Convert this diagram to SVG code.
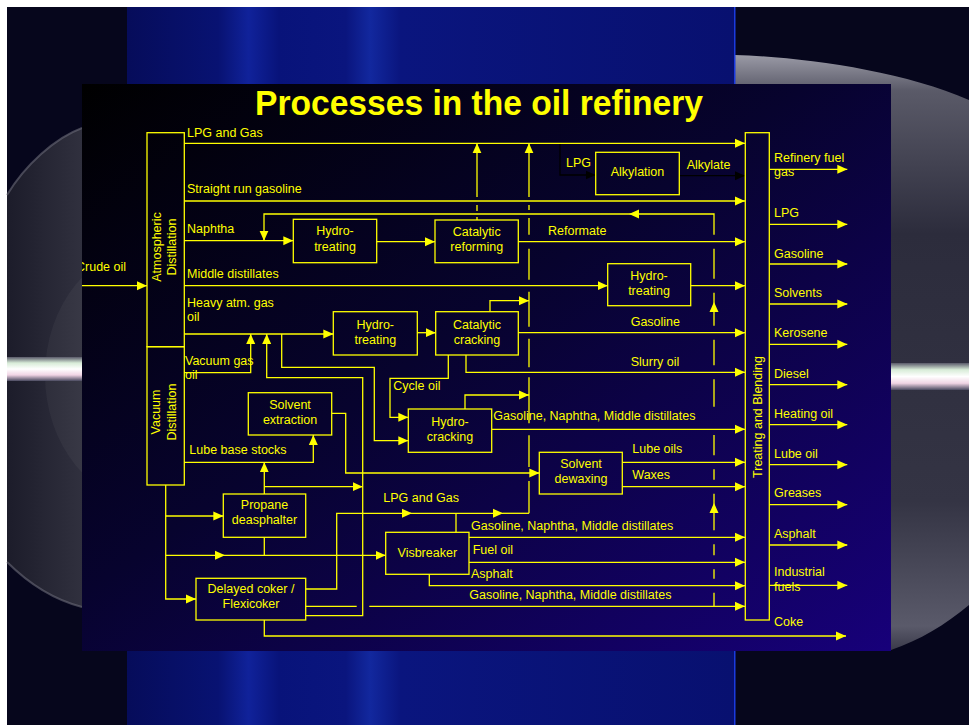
<svg xmlns="http://www.w3.org/2000/svg" width="969" height="725" viewBox="0 0 969 725">
<defs>
<linearGradient id="panelGrad" x1="0" y1="0" x2="1" y2="1">
<stop offset="0" stop-color="#000000"/>
<stop offset="0.45" stop-color="#07032e"/>
<stop offset="1" stop-color="#17007a"/>
</linearGradient>
<linearGradient id="band" x1="127" y1="0" x2="735" y2="0" gradientUnits="userSpaceOnUse">
<stop offset="0" stop-color="#060c5a"/>
<stop offset="0.15" stop-color="#081272"/>
<stop offset="0.2" stop-color="#10229a"/>
<stop offset="0.25" stop-color="#08137a"/>
<stop offset="0.36" stop-color="#0a157e"/>
<stop offset="0.4" stop-color="#12289e"/>
<stop offset="0.45" stop-color="#0a157e"/>
<stop offset="1" stop-color="#081070"/>
</linearGradient>
<linearGradient id="discL" x1="0" y1="0" x2="1" y2="0">
<stop offset="0" stop-color="#1c1c2a"/>
<stop offset="1" stop-color="#30303e"/>
</linearGradient>
<linearGradient id="discR" x1="0" y1="0" x2="0" y2="1">
<stop offset="0" stop-color="#9a9aa6"/>
<stop offset="0.06" stop-color="#5a5a68"/>
<stop offset="0.3" stop-color="#2c2c3c"/>
<stop offset="0.75" stop-color="#343444"/>
<stop offset="0.96" stop-color="#5a5a6a"/>
<stop offset="1" stop-color="#3a3a4a"/>
</linearGradient>
<linearGradient id="streak" x1="0" y1="0" x2="0" y2="1">
<stop offset="0" stop-color="#5a5a6a"/>
<stop offset="0.25" stop-color="#d8ecd8"/>
<stop offset="0.5" stop-color="#ffffff"/>
<stop offset="0.75" stop-color="#f0d4e4"/>
<stop offset="1" stop-color="#4a4a60"/>
</linearGradient>
<clipPath id="panelClip"><rect x="82" y="84" width="809" height="567"/></clipPath>
<marker id="a" markerUnits="userSpaceOnUse" markerWidth="10" markerHeight="10" refX="10" refY="5" orient="auto" viewBox="0 0 10 10">
<path d="M0,0.5L10,5L0,9.5z" fill="#ffff00"/>
</marker>
<marker id="ab" markerUnits="userSpaceOnUse" markerWidth="10" markerHeight="10" refX="10" refY="5" orient="auto" viewBox="0 0 10 10">
<path d="M0,0.5L10,5L0,9.5z" fill="#000000"/>
</marker>
<style>
.t{font-family:"Liberation Sans",Arial,sans-serif;font-size:12.5px;fill:#ffff00}
.c{text-anchor:middle}
.box{fill:none;stroke:#ffff00;stroke-width:1.3}
</style>
</defs>

<g id="background">
<rect width="969" height="725" fill="#ffffff"/>
<rect x="7" y="7" width="962" height="718" fill="#06061c"/>
<path d="M82,128C55,138 25,165 7,195L7,562C30,585 55,600 82,607Z" fill="url(#discL)"/>
<path d="M82,128C55,138 25,165 7,195" fill="none" stroke="#6a6a78" stroke-width="2" opacity="0.6"/>
<path d="M7,562C30,585 55,600 82,607" fill="none" stroke="#6a6a78" stroke-width="2" opacity="0.6"/>
<ellipse cx="150" cy="375" rx="105" ry="128" fill="#ffffff" opacity="0.04"/>
<rect x="7" y="357" width="75" height="24" fill="url(#streak)"/>
<path d="M735,55C800,57 900,70 969,100L969,605C945,625 920,640 891,650L891,84L735,84Z" fill="url(#discR)"/>
<rect x="891" y="363" width="78" height="27" fill="url(#streak)"/>
<rect x="127" y="7" width="608" height="718" fill="url(#band)"/>
<rect x="734" y="7" width="1.5" height="718" fill="#1a3ae0"/>
<rect x="82" y="84" width="809" height="567" fill="url(#panelGrad)"/>
</g>

<g id="title">
<text x="479" y="115" text-anchor="middle" textLength="448" lengthAdjust="spacingAndGlyphs" style="font-family:'Liberation Sans',Arial,sans-serif;font-size:35px;font-weight:bold;fill:#ffff00">Processes in the oil refinery</text>
</g>

<g id="connectors" fill="none" stroke="#ffff00" stroke-width="1.3">
<path d="M82,285.7H147" marker-end="url(#a)"/>
<path d="M184,143.3H745" marker-end="url(#a)"/>
<path d="M184,201H745" marker-end="url(#a)"/>
<path d="M184,240.7H293.3" marker-end="url(#a)"/>
<path d="M714,606.7V592.7M714,578.7V569.3M714,555.3V544.3"/>
<path d="M714,530.3V503" marker-end="url(#a)"/>
<path d="M714,503V493.7M714,479.7V469.3M714,455.3V435M714,406.7V379.3M714,365.3V339.7"/>
<path d="M714,325.7V302" marker-end="url(#a)"/>
<path d="M714,302V292.7M714,278.7V248.7"/>
<path d="M714,234.7V214H629" marker-end="url(#a)"/>
<path d="M629,214H264V240.7" marker-end="url(#a)"/>
<path d="M376.7,241.7H435" marker-end="url(#a)"/>
<path d="M518.3,241.7H745" marker-end="url(#a)"/>
<path d="M477,220V217M477,211V205M477,197V143.3" marker-end="url(#a)"/>
<path d="M529,513.3V481M529,467V435.3M529,423.3V377.3M529,367.3V338.7M529,326.7V291.7M529,279.7V248.7M529,234.7V218M529,210V205M529,197V143.3" marker-end="url(#a)"/>
<path d="M184,285.7H607.7" marker-end="url(#a)"/>
<path d="M690.7,285.7H745" marker-end="url(#a)"/>
<path d="M184,334H333.3" marker-end="url(#a)"/>
<path d="M184,372.7H250.7V334" marker-end="url(#a)"/>
<path d="M305.7,615.7H362.7V377.7H266.7V334" marker-end="url(#a)"/>
<path d="M281.7,334V367.3H374.3V440.7H408.3" marker-end="url(#a)"/>
<path d="M417.3,332.7H435.7" marker-end="url(#a)"/>
<path d="M518.3,332.7H745" marker-end="url(#a)"/>
<path d="M490,311.7V300.7H529" marker-end="url(#a)"/>
<path d="M466,355V372.3H745" marker-end="url(#a)"/>
<path d="M448.3,355V378.3H390V417.3H408.3" marker-end="url(#a)"/>
<path d="M465,409V395H529" marker-end="url(#a)"/>
<path d="M491.7,429.3H745" marker-end="url(#a)"/>
<path d="M184,462.3H313.3V435" marker-end="url(#a)"/>
<path d="M331.7,413.3H345.7V473H539.3" marker-end="url(#a)"/>
<path d="M622.3,462.3H745" marker-end="url(#a)"/>
<path d="M622.3,486.7H745" marker-end="url(#a)"/>
<path d="M165.7,485V599H196" marker-end="url(#a)"/>
<path d="M165.7,516H223.3" marker-end="url(#a)"/>
<path d="M165.7,555.3H225" marker-end="url(#a)"/>
<path d="M225,555.3H385.7" marker-end="url(#a)"/>
<path d="M264.3,494V462.3" marker-end="url(#a)"/>
<path d="M264.3,486.7H362.7" marker-end="url(#a)"/>
<path d="M264.3,537.3V555.3"/>
<path d="M305.7,589H336.7V513.3H412" marker-end="url(#a)"/>
<path d="M412,513.3H503" marker-end="url(#a)"/>
<path d="M503,513.3H529"/>
<path d="M456,532.3V513.3"/>
<path d="M469,537.3H745" marker-end="url(#a)"/>
<path d="M469,562.3H745" marker-end="url(#a)"/>
<path d="M429.3,574.3V585.7H745" marker-end="url(#a)"/>
<path d="M305.7,606.3H356.7M369.3,606.3H745" marker-end="url(#a)"/>
<path d="M264.3,620V636H846" marker-end="url(#a)"/>
<path d="M769.3,169.3H847.3" marker-end="url(#a)"/>
<path d="M769.3,224.3H847.3" marker-end="url(#a)"/>
<path d="M769.3,264H847.3" marker-end="url(#a)"/>
<path d="M769.3,304H847.3" marker-end="url(#a)"/>
<path d="M769.3,344.3H847.3" marker-end="url(#a)"/>
<path d="M769.3,384.7H847.3" marker-end="url(#a)"/>
<path d="M769.3,424.7H847.3" marker-end="url(#a)"/>
<path d="M769.3,464.7H847.3" marker-end="url(#a)"/>
<path d="M769.3,504.7H847.3" marker-end="url(#a)"/>
<path d="M769.3,545H847.3" marker-end="url(#a)"/>
<path d="M769.3,585.3H847.3" marker-end="url(#a)"/>
<path d="M560,144V175H595.7" stroke="#000000" marker-end="url(#ab)"/>
<path d="M679.3,175.7H745" stroke="#000000" marker-end="url(#ab)"/>
</g>

<g id="atmospheric-distillation">
<rect class="box" x="147" y="132.7" width="37.3" height="214"/>
<text class="t c" transform="translate(160.5,247) rotate(-90)">Atmospheric</text>
<text class="t c" transform="translate(176,247) rotate(-90)">Distillation</text>
</g>
<g id="vacuum-distillation">
<rect class="box" x="147" y="346.7" width="37.3" height="138.3"/>
<text class="t c" transform="translate(160.2,412) rotate(-90)">Vacuum</text>
<text class="t c" transform="translate(175.5,412) rotate(-90)">Distillation</text>
</g>
<g id="treating-blending">
<rect class="box" x="745.3" y="132.7" width="24" height="487.3"/>
<text class="t c" transform="translate(761.5,417) rotate(-90)">Treating and Blending</text>
</g>
<g id="hydrotreating-1">
<rect class="box" x="293.3" y="219.3" width="83.4" height="43.4"/>
<text class="t c" x="335" y="235">Hydro-</text>
<text class="t c" x="335" y="250.5">treating</text>
</g>
<g id="catalytic-reforming">
<rect class="box" x="435" y="220" width="83.3" height="42.7"/>
<text class="t c" x="476.7" y="236">Catalytic</text>
<text class="t c" x="476.7" y="251">reforming</text>
</g>
<g id="alkylation">
<rect class="box" x="595.7" y="152.3" width="83.6" height="42.4"/>
<text class="t c" x="637.5" y="176">Alkylation</text>
</g>
<g id="hydrotreating-2">
<rect class="box" x="607.7" y="263.7" width="83" height="42"/>
<text class="t c" x="649" y="279.5">Hydro-</text>
<text class="t c" x="649" y="294.5">treating</text>
</g>
<g id="hydrotreating-3">
<rect class="box" x="333.3" y="311.7" width="84" height="43.3"/>
<text class="t c" x="375.3" y="328.5">Hydro-</text>
<text class="t c" x="375.3" y="343.8">treating</text>
</g>
<g id="catalytic-cracking">
<rect class="box" x="435.7" y="311.7" width="82.6" height="43.3"/>
<text class="t c" x="477" y="328.5">Catalytic</text>
<text class="t c" x="477" y="343.8">cracking</text>
</g>
<g id="solvent-extraction">
<rect class="box" x="248.3" y="392.7" width="83.4" height="42.3"/>
<text class="t c" x="290" y="408.5">Solvent</text>
<text class="t c" x="290" y="423.5">extraction</text>
</g>
<g id="hydrocracking">
<rect class="box" x="408.3" y="409" width="83.4" height="43.3"/>
<text class="t c" x="450" y="426">Hydro-</text>
<text class="t c" x="450" y="441">cracking</text>
</g>
<g id="solvent-dewaxing">
<rect class="box" x="539.3" y="452.3" width="83" height="41.7"/>
<text class="t c" x="581" y="467.8">Solvent</text>
<text class="t c" x="581" y="482.8">dewaxing</text>
</g>
<g id="propane-deasphalter">
<rect class="box" x="223.3" y="494" width="82.4" height="43.3"/>
<text class="t c" x="264.5" y="508.8">Propane</text>
<text class="t c" x="264.5" y="523.8">deasphalter</text>
</g>
<g id="visbreaker">
<rect class="box" x="385.7" y="532.3" width="83.3" height="42"/>
<text class="t c" x="427.3" y="556.8">Visbreaker</text>
</g>
<g id="delayed-coker">
<rect class="box" x="196" y="578.3" width="109.7" height="41.7"/>
<text class="t c" x="251" y="592.8">Delayed coker /</text>
<text class="t c" x="251" y="607.8">Flexicoker</text>
</g>

<g id="labels">
<text class="t" x="76" y="271" clip-path="url(#panelClip)">Crude oil</text>
<text class="t" x="187" y="137">LPG and Gas</text>
<text class="t" x="187" y="193.3">Straight run gasoline</text>
<text class="t" x="187" y="233.3">Naphtha</text>
<text class="t" x="187" y="277.7">Middle distillates</text>
<text class="t" x="187" y="306.7">Heavy atm. gas</text>
<text class="t" x="187" y="320.7">oil</text>
<text class="t" x="185" y="364.5">Vacuum gas</text>
<text class="t" x="185" y="379">oil</text>
<text class="t" x="189.3" y="454.3">Lube base stocks</text>
<text class="t" x="566" y="166.5">LPG</text>
<text class="t" x="686.7" y="169">Alkylate</text>
<text class="t" x="548" y="235">Reformate</text>
<text class="t" x="630.7" y="325.5">Gasoline</text>
<text class="t" x="630.7" y="366">Slurry oil</text>
<text class="t" x="393.3" y="390">Cycle oil</text>
<text class="t" x="493.3" y="420">Gasoline, Naphtha, Middle distillates</text>
<text class="t" x="632.3" y="453">Lube oils</text>
<text class="t" x="632.3" y="478.5">Waxes</text>
<text class="t" x="383.3" y="502.3">LPG and Gas</text>
<text class="t" x="471" y="530">Gasoline, Naphtha, Middle distillates</text>
<text class="t" x="472.7" y="554">Fuel oil</text>
<text class="t" x="471" y="578.3">Asphalt</text>
<text class="t" x="469.3" y="599.3">Gasoline, Naphtha, Middle distillates</text>
<text class="t" x="774" y="162">Refinery fuel</text>
<text class="t" x="774" y="176">gas</text>
<text class="t" x="774" y="217">LPG</text>
<text class="t" x="774" y="257.5">Gasoline</text>
<text class="t" x="774" y="296.5">Solvents</text>
<text class="t" x="774" y="336.5">Kerosene</text>
<text class="t" x="774" y="378">Diesel</text>
<text class="t" x="774" y="417.5">Heating oil</text>
<text class="t" x="774" y="458">Lube oil</text>
<text class="t" x="774" y="497">Greases</text>
<text class="t" x="774" y="538">Asphalt</text>
<text class="t" x="774" y="576">Industrial</text>
<text class="t" x="774" y="591">fuels</text>
<text class="t" x="774" y="626">Coke</text>
</g>
</svg>
